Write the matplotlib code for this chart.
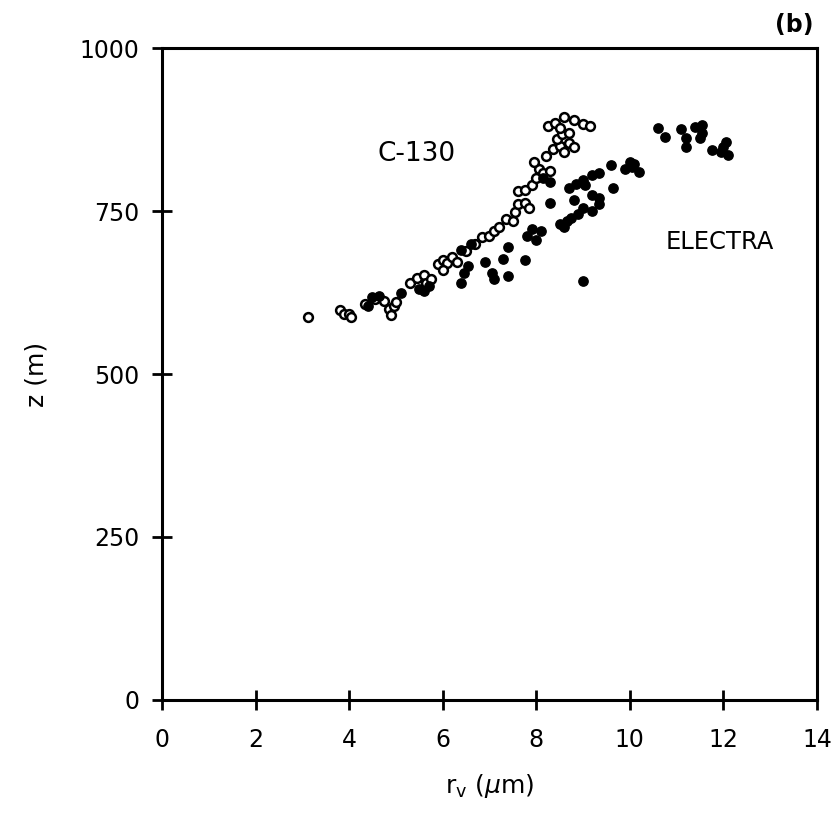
import matplotlib.pyplot as plt

# C-130 (open circles): r_v (um), z (m)
c130_r = [3.13, 3.8, 3.9, 4.0, 4.05, 4.35, 4.55, 4.75, 4.85, 4.95, 4.9, 5.0,
          5.3, 5.45, 5.6, 5.65, 5.75, 5.9, 6.0, 6.1, 6.2, 6.3, 6.0,
          6.5, 6.7, 6.85, 7.0, 7.1, 7.2, 7.35, 7.5, 7.55, 7.6, 7.75, 7.85,
          7.6, 7.75, 7.9, 8.0, 8.05, 7.95, 8.15, 8.3, 8.2, 8.35, 8.5, 8.6,
          8.7, 8.8, 8.45, 8.55, 8.25, 8.4, 8.6, 8.8, 9.0, 9.15, 8.5, 8.7]
c130_z = [587, 598, 592, 592, 588, 608, 615, 612, 600, 605, 590, 610,
          640, 648, 652, 640, 645, 668, 675, 670, 680, 672, 660,
          688, 700, 710, 712, 720, 725, 738, 735, 748, 760, 762, 755,
          780, 782, 790, 800, 815, 825, 808, 812, 835, 845, 850, 840,
          855, 848, 860, 868, 880, 885, 894, 890, 883, 880, 878, 870]

# ELECTRA (filled circles)
electra_r = [4.4, 4.5, 4.65, 5.1, 5.5, 5.7, 5.6, 6.4, 6.45, 6.55, 6.4, 6.6,
             6.9, 7.05, 7.1, 7.4, 7.3, 7.4, 7.75, 7.8, 7.9, 8.0, 8.1,
             8.3, 8.3, 8.15, 8.5, 8.65, 8.9, 8.75, 8.6, 8.7, 8.85, 9.0, 9.05,
             9.2, 9.35, 9.6, 9.9, 10.0, 10.1, 10.2, 10.05, 9.2, 9.35, 9.65,
             8.8, 9.0, 9.2, 9.35, 9.0, 10.6, 10.75, 11.1, 11.2, 11.2, 11.4,
             11.55, 11.55, 11.5, 11.75, 11.95, 12.05, 12.1, 12.0]
electra_z = [605, 618, 620, 625, 630, 635, 628, 640, 655, 665, 690, 700,
             672, 655, 645, 650, 677, 695, 675, 712, 722, 705, 720,
             762, 795, 800, 730, 735, 746, 740, 725, 785, 792, 797, 790,
             805, 808, 820, 815, 825, 822, 810, 818, 775, 770, 785,
             767, 755, 750, 760, 643, 877, 863, 876, 862, 848, 879,
             882, 870, 862, 843, 840, 856, 836, 848]

x_ticks = [0, 2, 4, 6, 8, 10, 12, 14]
y_ticks = [0, 250, 500, 750, 1000]

plt.rcParams['font.family'] = ['DejaVu Sans']

fig = plt.figure(figsize=(8.37, 8.21), dpi=100)
ax = fig.add_axes([0.1935, 0.1474, 0.7825, 0.7941])

ax.scatter(c130_r, c130_z, s=40, facecolors='white', edgecolors='black',
           linewidths=1.8, zorder=3)
ax.scatter(electra_r, electra_z, s=45, color='black', zorder=4)

ax.set_xlim(0, 14)
ax.set_ylim(0, 1000)
ax.set_xticks(x_ticks)
ax.set_yticks(y_ticks)
ax.tick_params(direction='inout', length=15, width=2, labelsize=17)
ax.tick_params(axis='x', pad=13)
ax.tick_params(axis='y', pad=9)
for s in ax.spines.values():
    s.set_linewidth(2.2)

ax.set_xlabel(r'r$_\mathregular{v}$ ($\mu$m)', fontsize=18, labelpad=14)
ax.set_ylabel('z (m)', fontsize=18, labelpad=22)

ax.text(5.45, 837, 'C-130', fontsize=19, ha='center', va='center')
ax.text(11.92, 702, 'ELECTRA', fontsize=17.5, ha='center', va='center')
ax.text(0.995, 1.035, '(b)', transform=ax.transAxes, fontsize=17,
        fontweight='bold', ha='right', va='center')

plt.savefig('out.png', dpi=100)
plt.close()
